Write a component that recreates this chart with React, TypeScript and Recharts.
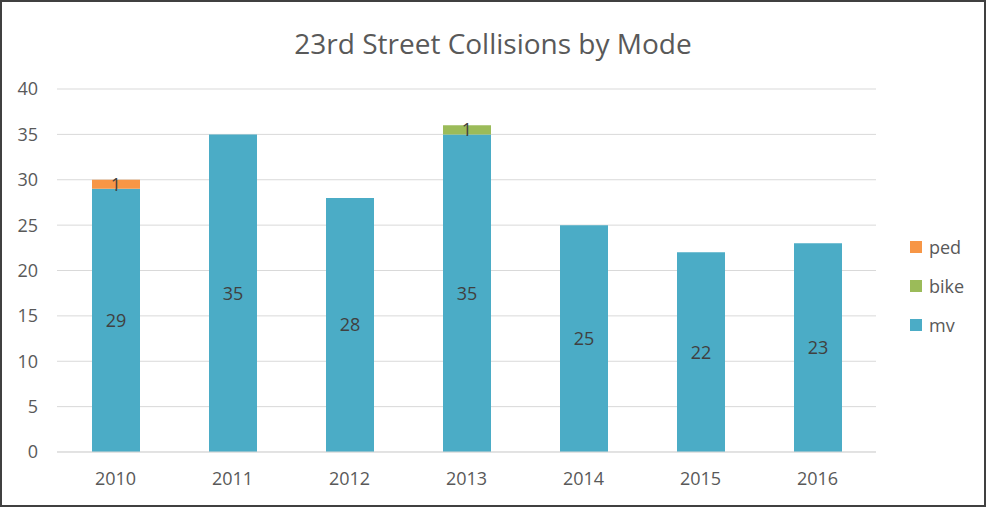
import { BarChart, Bar, XAxis, YAxis, CartesianGrid, LabelList } from "recharts"

const years = ["2010", "2011", "2012", "2013", "2014", "2015", "2016"]
const mv = [29, 35, 28, 35, 25, 22, 23]
const bike = [0, 0, 0, 1, 0, 0, 0]
const ped = [1, 0, 0, 0, 0, 0, 0]
const yTicks = [0, 5, 10, 15, 20, 25, 30, 35, 40]

const FONT = "'Open Sans', sans-serif"

const chartData = years.map((year, i) => ({
  year,
  mv: mv[i],
  bike: bike[i],
  ped: ped[i],
}))

const legendItems = [
  { name: "ped", color: "#F79646" },
  { name: "bike", color: "#9BBB59" },
  { name: "mv", color: "#4BACC6" },
]

// hide zero labels on the thin segments
const labelFormatter = (v: any) => (v ? v : "")

const App = () => {
  return (
    <div
      style={{
        position: "absolute",
        left: 0,
        top: 0,
        width: 982,
        height: 503,
        border: "2px solid #404040",
        background: "#fff",
      }}
    >
      <div
        style={{
          position: "absolute",
          top: 22,
          width: "100%",
          textAlign: "center",
          fontFamily: FONT,
          fontSize: 28,
          color: "#595959",
        }}
      >
        23rd Street Collisions by Mode
      </div>
      <div
        style={{
          position: "absolute",
          left: 908,
          top: 225,
          fontFamily: FONT,
          fontSize: 18,
          color: "#595959",
        }}
      >
        {legendItems.map((item) => (
          <div key={item.name} style={{ display: "flex", alignItems: "center", height: 39 }}>
            <span style={{ width: 12, height: 12, background: item.color, marginRight: 7 }} />
            <span>{item.name}</span>
          </div>
        ))}
      </div>
      <BarChart
        width={982}
        height={503}
        data={chartData}
        margin={{ top: 87, right: 108, left: 0, bottom: 23 }}
        style={{ position: "absolute", left: 0, top: 0 }}
      >
        <CartesianGrid vertical={false} stroke="#d9d9d9" />
        <XAxis
          dataKey="year"
          height={30}
          tickLine={false}
          tickSize={0}
          tickMargin={20}
          stroke="#d9d9d9"
          tick={{ fill: "#595959", fontSize: 18, fontFamily: FONT }}
        />
        <YAxis
          width={55}
          domain={[0, 40]}
          ticks={yTicks}
          axisLine={false}
          tickLine={false}
          tickSize={0}
          tickMargin={19}
          tick={{ fill: "#595959", fontSize: 18, fontFamily: FONT }}
        />
        <Bar dataKey="mv" stackId="a" fill="#4BACC6" barSize={48} isAnimationActive={false}>
          <LabelList dataKey="mv" position="center" fill="#404040" fontSize={18} fontFamily={FONT} />
        </Bar>
        <Bar dataKey="bike" stackId="a" fill="#9BBB59" barSize={48} isAnimationActive={false}>
          <LabelList dataKey="bike" position="center" fill="#404040" fontSize={18} fontFamily={FONT} formatter={labelFormatter} />
        </Bar>
        <Bar dataKey="ped" stackId="a" fill="#F79646" barSize={48} isAnimationActive={false}>
          <LabelList dataKey="ped" position="center" fill="#404040" fontSize={18} fontFamily={FONT} formatter={labelFormatter} />
        </Bar>
      </BarChart>
    </div>
  )
}

export default App
